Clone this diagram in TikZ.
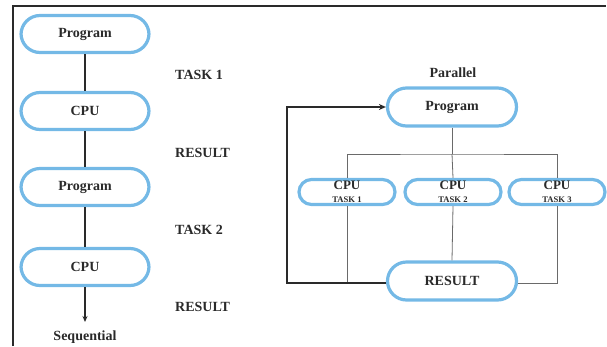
\documentclass[tikz,border=0pt]{standalone}
\usepackage{fontspec}
\setmainfont{Liberation Serif}
\usetikzlibrary{arrows.meta}
\definecolor{pill}{HTML}{74B9E6}
\definecolor{ink}{HTML}{2A2A2A}
\definecolor{wire}{HTML}{6A6A6A}
\tikzset{
  pillbox/.style={draw=pill, line width=3.2pt, fill=white, rounded corners=#1, inner sep=0pt, text=ink, font=\fontsize{14}{16}\selectfont\bfseries},
  bigpill/.style={pillbox=19pt, minimum width=128pt, minimum height=37pt},
  smallpill/.style={pillbox=12.5pt, minimum width=96pt, minimum height=25pt, align=center},
  lbl/.style={text=ink, font=\fontsize{14}{16}\selectfont\bfseries, inner sep=0pt},
  thin/.style={draw=wire, line width=0.8pt},
  seqline/.style={draw=ink, line width=1.2pt},
  fb/.style={draw=ink, line width=2pt}
}
\begin{document}
\begin{tikzpicture}[x=1pt,y=-1pt]
\useasboundingbox (0,0) rectangle (607,346);
\draw[line width=1.8pt, ink] (13,346) -- (13,6) -- (606,6);
% sequential
\node[bigpill] (p1) at (85,34) {Program};
\node[bigpill] (c1) at (85,111) {CPU};
\node[bigpill] (p2) at (85,187) {Program};
\node[bigpill] (c2) at (85,267) {CPU};
\node[lbl] (seq) at (85,337) {Sequential};
\coordinate (seqend) at (85,322);
\draw[seqline] (p1) -- (c1);
\draw[seqline] (c1) -- (p2);
\draw[seqline] (p2) -- (c2);
\draw[seqline, -{Stealth[length=6pt,width=5pt]}] (c2) -- (seqend);
\node[lbl, anchor=west] (t1) at (175,75) {TASK 1};
\node[lbl, anchor=west] (r1) at (175,153) {RESULT};
\node[lbl, anchor=west] (t2) at (175,230) {TASK 2};
\node[lbl, anchor=west] (r2) at (175,307) {RESULT};
% parallel
\node[lbl] (par) at (453,73) {Parallel};
\node[bigpill, minimum width=129pt, minimum height=38pt] (pp) at (452,107) {Program};
\node[smallpill] (k1) at (347,192) {\fontsize{13}{13}\selectfont CPU\\[-3pt]\fontsize{8.6}{9}\selectfont TASK 1};
\node[smallpill] (k2) at (453,192) {\fontsize{13}{13}\selectfont CPU\\[-3pt]\fontsize{8.6}{9}\selectfont TASK 2};
\node[smallpill] (k3) at (557,192) {\fontsize{13}{13}\selectfont CPU\\[-3pt]\fontsize{8.6}{9}\selectfont TASK 3};
\node[bigpill, minimum width=129pt, minimum height=38pt] (rr) at (452,281) {RESULT};
\coordinate (bus) at (452,154);
\coordinate (fbc) at (287,283);
\begin{scope}[on background layer/.try]
\draw[thin] (pp.south) -- (bus);
\draw[thin] (k1.north) |- (bus) -| (k3.north);
\draw[thin] (bus) -- (k2.north);
\draw[thin] (k1.south) -- (k1.south |- fbc);
\draw[thin] (k2.south) -- (rr.north);
\draw[thin] (k3.south) |- (rr.east |- fbc) -- (rr.east |- fbc);
\end{scope}
\draw[fb, -{Stealth[length=7pt,width=6pt]}] (rr.west |- fbc) -- (fbc) |- (pp.west);
\end{tikzpicture}
\end{document}
